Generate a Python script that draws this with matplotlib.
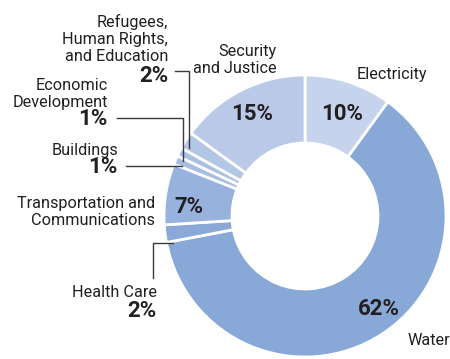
import matplotlib.pyplot as plt

# Sector shares (percent)
sectors = ['Electricity', 'Water', 'Health Care', 'Transportation and\nCommunications',
           'Buildings', 'Economic\nDevelopment', 'Refugees,\nHuman Rights,\nand Education',
           'Security\nand Justice']
shares = [10, 62, 2, 7, 1, 1, 2, 15]
colors = ['#c5d3ec', '#88a8d8', '#8aa9d8', '#98b2de', '#a6bde2', '#abc1e4', '#b2c6e6', '#bac9e8']

W, H = 450, 359
def py(y):  # pixel row from top -> data y
    return H - y

fig = plt.figure(figsize=(4.5, 3.59), dpi=100)
ax = fig.add_axes([0, 0, 1, 1])

ax.pie(shares, colors=colors, startangle=90, counterclock=False,
       center=(305, py(216)), radius=141,
       wedgeprops=dict(width=68, edgecolor='white', linewidth=2))
ax.set_xlim(0, W)
ax.set_ylim(0, H)
ax.set_aspect('equal')
ax.axis('off')

txt = '#231f20'
reg = dict(family='Roboto', fontsize=11.7, color=txt)
bold = dict(family='Roboto', fontsize=16, fontweight='bold', color=txt)

# category labels: (index, x, baseline of last line, ha)
label_pos = [(0, 357, 79, 'left'), (1, 408, 345, 'left'), (2, 157, 297, 'right'),
             (3, 155, 225, 'right'), (4, 118, 155, 'right'), (5, 108, 107, 'right'),
             (6, 168, 61, 'right'), (7, 277, 73, 'right')]
for i, x, y, ha in label_pos:
    ax.text(x, py(y), sectors[i], ha=ha, va='baseline', multialignment=ha,
            linespacing=1.17, **reg)

# percentage labels: (index, x, baseline y, ha)
pct_pos = [(0, 342, 120, 'center'), (1, 379, 315, 'center'), (2, 157, 317, 'right'),
           (3, 189, 213, 'center'), (4, 118, 173, 'right'), (5, 108, 125, 'right'),
           (6, 168, 82, 'right'), (7, 252, 120, 'center')]
for i, x, y, ha in pct_pos:
    ax.text(x, py(y), '{}%'.format(shares[i]), ha=ha, va='baseline', **bold)

# leader lines for the small slices
leaders = [([175, 189, 189], [71, 71, 148]),
           ([117, 183, 183], [118, 118, 161]),
           ([126, 182], [166, 166]),
           ([173, 153, 153], [243, 243, 278])]
for xs, ys in leaders:
    ax.plot(xs, [py(y) for y in ys], color='#3a3a3a', lw=1)

fig.savefig('out.png', dpi=100)
